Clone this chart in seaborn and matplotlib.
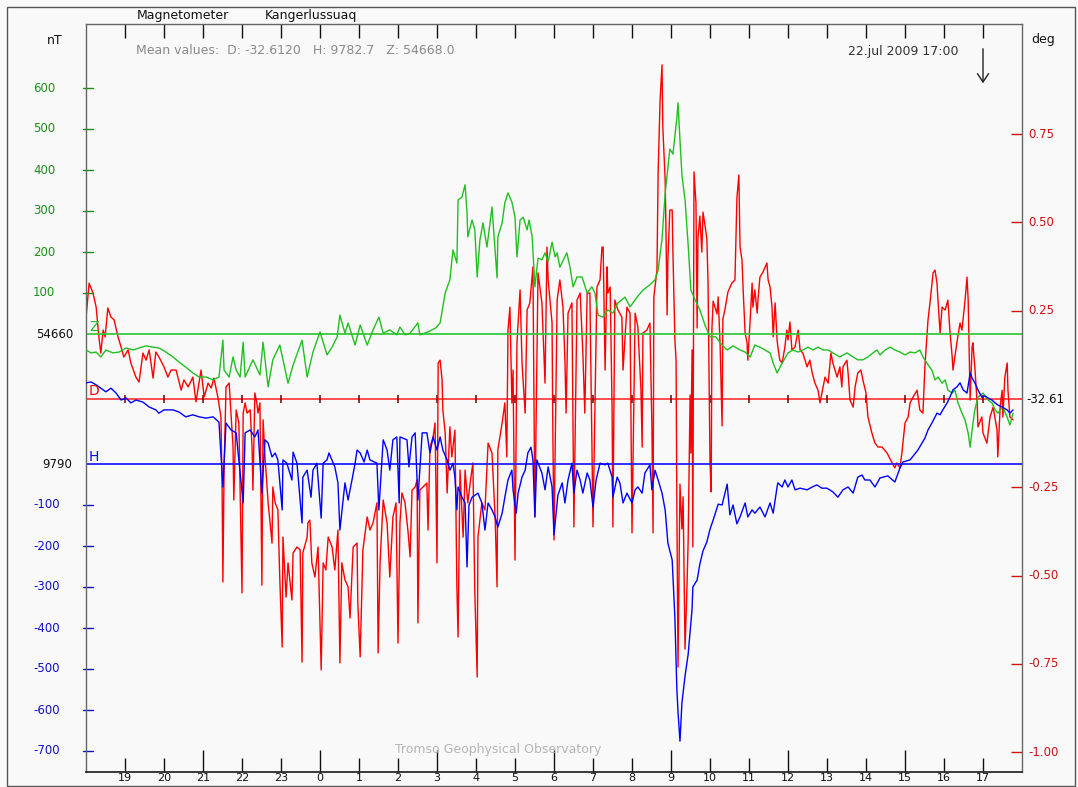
import numpy as np
import pandas as pd
import matplotlib
matplotlib.use("Agg")
import matplotlib.pyplot as plt
import matplotlib.transforms as mtransforms
from matplotlib.patches import Rectangle, FancyArrowPatch
import seaborn as sns

# ---------------- data (time = hours after 21 Jul 18:00 UT) ----------------
Z_BASE = 54660          # nT, reference level of Z trace
H_BASE = 9790           # nT, reference level of H trace
D_BASE = -32.61         # deg, reference level of D trace

z_time = [0.00, 0.13, 0.26, 0.38, 0.51, 0.69, 0.85, 1.03, 1.21, 1.36,
          1.54, 1.72, 1.87, 2.05, 2.23, 2.38, 2.56, 2.74, 2.90, 3.08,
          3.26, 3.41, 3.51, 3.54, 3.67, 3.77, 3.85, 3.95, 4.03, 4.08,
          4.28, 4.46, 4.54, 4.67, 4.79, 4.97, 5.18, 5.31, 5.54, 5.67,
          5.82, 6.00, 6.18, 6.31, 6.44, 6.51, 6.64, 6.72, 6.90, 7.03,
          7.21, 7.36, 7.51, 7.62, 7.79, 7.97, 8.05, 8.18, 8.31, 8.51,
          8.56, 8.77, 8.97, 9.08, 9.21, 9.33, 9.41, 9.51, 9.54, 9.64,
          9.72, 9.77, 9.79, 9.90, 9.97, 10.03, 10.10, 10.18, 10.28, 10.36,
          10.41, 10.54, 10.56, 10.67, 10.74, 10.82, 10.92, 11.00, 11.05, 11.13,
          11.21, 11.31, 11.36, 11.44, 11.51, 11.59, 11.69, 11.77, 11.85, 11.95,
          12.03, 12.08, 12.15, 12.33, 12.41, 12.49, 12.59, 12.72, 12.85, 12.97,
          13.05, 13.13, 13.26, 13.38, 13.51, 13.64, 13.82, 13.95, 14.13, 14.28,
          14.46, 14.59, 14.67, 14.77, 14.85, 14.97, 15.05, 15.15, 15.18, 15.23,
          15.28, 15.36, 15.44, 15.51, 15.62, 15.74, 15.87, 16.00, 16.15, 16.31,
          16.44, 16.59, 16.77, 16.90, 17.03, 17.15, 17.28, 17.41, 17.54, 17.62,
          17.72, 17.85, 18.00, 18.13, 18.26, 18.38, 18.51, 18.64, 18.77, 18.90,
          19.03, 19.15, 19.33, 19.51, 19.67, 19.79, 19.92, 20.05, 20.18, 20.28,
          20.36, 20.49, 20.62, 20.74, 20.87, 21.00, 21.13, 21.26, 21.38, 21.46,
          21.56, 21.69, 21.77, 21.85, 21.95, 22.03, 22.10, 22.21, 22.28, 22.36,
          22.46, 22.54, 22.62, 22.67, 22.72, 22.79, 22.87, 23.00, 23.13, 23.23,
          23.31, 23.38, 23.51, 23.62, 23.69, 23.77]
z_dev = [-39, -46, -44, -56, -39, -46, -44, -34, -39, -34,
         -29, -32, -34, -44, -56, -68, -81, -95, -105, -105,
         -112, -105, -15, -88, -105, -56, -88, -105, -20, -105,
         -63, -100, -20, -129, -63, -27, -120, -76, -15, -105,
         -44, 5, -51, -32, -7, 46, 2, 27, -27, 22,
         -27, 10, 41, 2, 10, -2, 17, -2, 2, 27,
         -2, 5, 15, 27, 100, 132, 205, 173, 327, 334,
         364, 295, 237, 278, 254, 139, 229, 271, 212, 271,
         310, 137, 237, 271, 320, 344, 322, 285, 188, 278,
         285, 254, 278, 237, 115, 185, 181, 198, 176, 224,
         188, 198, 163, 198, 163, 115, 139, 139, 100, 115,
         100, 46, 41, 59, 51, 76, 90, 66, 90, 107,
         120, 132, 156, 232, 342, 451, 439, 527, 564, 473,
         388, 327, 217, 107, 83, 59, 22, -7, -7, -27,
         -39, -29, -39, -44, -56, -27, -32, -39, -46, -71,
         -95, -71, -46, -39, -44, -39, -32, -39, -32, -39,
         -39, -46, -56, -46, -56, -63, -63, -56, -46, -39,
         -51, -39, -32, -39, -44, -51, -44, -46, -39, -56,
         -71, -88, -112, -105, -120, -112, -137, -144, -137, -168,
         -193, -210, -242, -276, -234, -185, -154, -144, -161, -168,
         -185, -193, -178, -203, -222, -193]

h_time = [0.00, 0.13, 0.26, 0.38, 0.51, 0.64, 0.77, 0.90, 1.03, 1.15,
          1.28, 1.46, 1.62, 1.79, 1.87, 2.00, 2.23, 2.38, 2.56, 2.74,
          2.90, 3.08, 3.26, 3.41, 3.51, 3.59, 3.72, 3.85, 4.03, 4.08,
          4.21, 4.33, 4.41, 4.51, 4.59, 4.67, 4.77, 4.85, 4.92, 5.03,
          5.05, 5.15, 5.28, 5.31, 5.41, 5.54, 5.56, 5.67, 5.77, 5.82,
          5.92, 6.03, 6.08, 6.18, 6.23, 6.38, 6.46, 6.51, 6.64, 6.72,
          6.82, 6.90, 6.95, 7.03, 7.13, 7.21, 7.28, 7.46, 7.51, 7.62,
          7.72, 7.79, 7.87, 7.97, 8.03, 8.05, 8.23, 8.28, 8.36, 8.44,
          8.51, 8.62, 8.74, 8.82, 8.90, 9.00, 9.08, 9.15, 9.26, 9.33,
          9.41, 9.46, 9.51, 9.54, 9.64, 9.72, 9.77, 9.82, 9.90, 10.05,
          10.15, 10.23, 10.31, 10.41, 10.49, 10.56, 10.67, 10.74, 10.82, 10.92,
          10.95, 11.03, 11.08, 11.18, 11.26, 11.33, 11.41, 11.46, 11.51, 11.56,
          11.69, 11.77, 11.85, 11.95, 12.00, 12.10, 12.21, 12.28, 12.36, 12.46,
          12.51, 12.59, 12.67, 12.74, 12.85, 12.92, 13.00, 13.08, 13.18, 13.31,
          13.38, 13.49, 13.51, 13.62, 13.69, 13.77, 13.87, 14.00, 14.08, 14.15,
          14.26, 14.33, 14.46, 14.51, 14.59, 14.67, 14.77, 14.85, 14.92, 15.03,
          15.10, 15.15, 15.18, 15.23, 15.28, 15.36, 15.44, 15.54, 15.56, 15.67,
          15.74, 15.82, 15.92, 16.00, 16.08, 16.21, 16.31, 16.44, 16.51, 16.59,
          16.69, 16.77, 16.90, 16.97, 17.08, 17.15, 17.28, 17.41, 17.54, 17.62,
          17.72, 17.74, 17.85, 17.92, 18.00, 18.10, 18.18, 18.31, 18.49, 18.62,
          18.74, 18.87, 19.00, 19.15, 19.28, 19.41, 19.54, 19.67, 19.79, 19.90,
          19.97, 20.10, 20.23, 20.36, 20.56, 20.74, 20.87, 20.95, 21.13, 21.33,
          21.51, 21.59, 21.69, 21.82, 21.90, 21.97, 22.08, 22.15, 22.23, 22.33,
          22.41, 22.49, 22.59, 22.67, 22.72, 22.79, 22.87, 22.97, 23.05, 23.13,
          23.23, 23.31, 23.38, 23.49, 23.62, 23.69, 23.77]
h_dev = [198, 200, 193, 185, 176, 185, 173, 156, 161, 149,
         156, 151, 139, 132, 124, 132, 132, 127, 115, 120,
         115, 112, 115, 102, -56, 100, 83, 76, -95, 76,
         83, 66, 83, -71, 59, 51, 17, 27, 10, -112,
         10, 2, -39, 29, 2, -144, -32, -15, -81, -15,
         2, -132, 2, 10, 27, -7, -46, -161, -46, -88,
         -39, 2, 34, 27, 5, 34, 10, 2, -112, 59,
         34, -15, 59, 66, -95, 66, 59, -7, 66, 76,
         -88, 76, 76, 27, 66, 34, 66, 34, 10, -15,
         2, -32, -112, -56, -81, -95, -251, -100, -81, -71,
         -95, -161, -95, -112, -129, -154, -120, -81, -39, -15,
         -63, -120, -71, -32, -15, 27, 41, 10, -129, 10,
         -22, -63, -7, -56, -173, -76, -46, -95, -39, 2,
         -71, -15, -39, -71, -22, -39, -105, -39, 2, -2,
         2, -32, -81, -32, -46, -95, -71, -95, -63, -56,
         -71, -22, -2, -63, -15, -39, -71, -112, -193, -234,
         -376, -549, -605, -676, -583, -517, -464, -354, -300, -283,
         -244, -212, -190, -159, -137, -98, -100, -49, -124, -100,
         -146, -129, -95, -129, -112, -120, -105, -129, -95, -120,
         -56, -46, -56, -39, -56, -39, -63, -59, -63, -56,
         -51, -59, -59, -68, -81, -63, -56, -71, -32, -27,
         -39, -39, -56, -34, -29, -44, -10, 5, 10, 34,
         63, 83, 100, 124, 120, 132, 149, 163, 181, 188,
         198, 181, 173, 222, 210, 198, 181, 163, 166, 161,
         156, 149, 144, 139, 132, 124, 132]

d_time = [0.00, 0.08, 0.18, 0.26, 0.33, 0.38, 0.44, 0.49, 0.56, 0.64,
          0.72, 0.82, 0.90, 0.97, 1.08, 1.15, 1.28, 1.36, 1.46, 1.54,
          1.62, 1.72, 1.79, 1.87, 2.00, 2.10, 2.18, 2.31, 2.44, 2.51,
          2.62, 2.74, 2.82, 2.95, 3.03, 3.13, 3.21, 3.28, 3.38, 3.46,
          3.49, 3.51, 3.54, 3.59, 3.67, 3.77, 3.79, 3.85, 3.92, 4.00,
          4.03, 4.08, 4.13, 4.21, 4.26, 4.28, 4.33, 4.38, 4.41, 4.46,
          4.51, 4.54, 4.59, 4.67, 4.77, 4.79, 4.85, 4.92, 4.97, 5.03,
          5.05, 5.13, 5.18, 5.28, 5.31, 5.41, 5.49, 5.54, 5.56, 5.67,
          5.69, 5.74, 5.79, 5.87, 5.95, 6.03, 6.08, 6.15, 6.21, 6.31,
          6.38, 6.46, 6.51, 6.56, 6.64, 6.72, 6.77, 6.85, 6.95, 6.97,
          7.03, 7.10, 7.21, 7.28, 7.36, 7.46, 7.49, 7.54, 7.62, 7.72,
          7.79, 7.87, 7.95, 8.00, 8.05, 8.10, 8.18, 8.26, 8.31, 8.36,
          8.44, 8.49, 8.51, 8.56, 8.64, 8.74, 8.77, 8.82, 8.90, 8.95,
          9.00, 9.03, 9.08, 9.13, 9.15, 9.21, 9.26, 9.33, 9.38, 9.46,
          9.51, 9.54, 9.59, 9.67, 9.72, 9.79, 9.85, 9.92, 9.97, 10.03,
          10.05, 10.15, 10.23, 10.31, 10.41, 10.49, 10.54, 10.56, 10.67, 10.74,
          10.79, 10.82, 10.87, 10.92, 10.95, 11.00, 11.05, 11.13, 11.18, 11.26,
          11.31, 11.38, 11.46, 11.51, 11.59, 11.69, 11.77, 11.82, 11.85, 11.95,
          11.97, 12.00, 12.08, 12.15, 12.23, 12.28, 12.31, 12.36, 12.46, 12.51,
          12.59, 12.67, 12.74, 12.79, 12.85, 12.92, 13.00, 13.10, 13.18, 13.23,
          13.26, 13.31, 13.36, 13.38, 13.44, 13.49, 13.51, 13.56, 13.64, 13.74,
          13.77, 13.87, 13.95, 14.00, 14.08, 14.15, 14.23, 14.26, 14.28, 14.38,
          14.46, 14.51, 14.54, 14.56, 14.64, 14.67, 14.72, 14.77, 14.79, 14.85,
          14.87, 14.90, 14.92, 14.97, 15.03, 15.05, 15.10, 15.13, 15.15, 15.18,
          15.23, 15.28, 15.31, 15.36, 15.41, 15.44, 15.49, 15.51, 15.54, 15.56,
          15.59, 15.64, 15.67, 15.69, 15.74, 15.79, 15.82, 15.87, 15.92, 15.95,
          16.00, 16.03, 16.05, 16.08, 16.18, 16.21, 16.26, 16.31, 16.33, 16.38,
          16.46, 16.56, 16.64, 16.69, 16.74, 16.77, 16.82, 16.85, 16.90, 16.95,
          16.97, 17.03, 17.08, 17.10, 17.15, 17.21, 17.23, 17.28, 17.36, 17.46,
          17.49, 17.54, 17.59, 17.62, 17.67, 17.72, 17.74, 17.79, 17.85, 17.92,
          17.97, 18.00, 18.05, 18.10, 18.18, 18.26, 18.31, 18.38, 18.49, 18.56,
          18.62, 18.69, 18.77, 18.82, 18.87, 18.95, 19.03, 19.10, 19.15, 19.26,
          19.33, 19.38, 19.41, 19.51, 19.54, 19.59, 19.67, 19.72, 19.79, 19.87,
          19.92, 20.00, 20.05, 20.15, 20.23, 20.31, 20.41, 20.54, 20.67, 20.74,
          20.79, 20.87, 20.92, 21.00, 21.08, 21.13, 21.21, 21.31, 21.38, 21.46,
          21.51, 21.59, 21.64, 21.72, 21.77, 21.82, 21.85, 21.90, 21.95, 22.03,
          22.10, 22.15, 22.21, 22.23, 22.33, 22.41, 22.46, 22.54, 22.59, 22.62,
          22.67, 22.72, 22.74, 22.79, 22.85, 22.87, 22.97, 23.00, 23.10, 23.18,
          23.26, 23.36, 23.38, 23.44, 23.49, 23.51, 23.56, 23.62, 23.64, 23.69,
          23.77]
d_dev = [0.229, 0.328, 0.300, 0.260, 0.176, 0.130, 0.195, 0.176, 0.258, 0.232,
         0.224, 0.176, 0.147, 0.119, 0.139, 0.102, 0.062, 0.048, 0.130, 0.110,
         0.139, 0.059, 0.133, 0.119, 0.091, 0.062, 0.082, 0.082, 0.025, 0.054,
         0.034, 0.062, -0.008, 0.082, 0.006, 0.045, 0.031, 0.059, 0.006, -0.051,
         -0.249, -0.518, -0.201, 0.034, 0.045, -0.136, -0.286, -0.031, -0.068, -0.549,
         -0.040, -0.011, -0.040, -0.031, -0.144, -0.258, 0.017, -0.011, -0.040, -0.011,
         -0.527, -0.059, -0.164, -0.294, -0.408, -0.249, -0.294, -0.314, -0.512, -0.702,
         -0.391, -0.561, -0.464, -0.569, -0.436, -0.419, -0.427, -0.745, -0.436, -0.391,
         -0.351, -0.343, -0.464, -0.504, -0.419, -0.767, -0.464, -0.484, -0.391, -0.419,
         -0.484, -0.371, -0.747, -0.464, -0.512, -0.532, -0.620, -0.419, -0.408, -0.578,
         -0.730, -0.427, -0.334, -0.371, -0.351, -0.294, -0.719, -0.464, -0.286, -0.351,
         -0.504, -0.334, -0.294, -0.691, -0.351, -0.266, -0.294, -0.379, -0.447, -0.258,
         -0.249, -0.229, -0.634, -0.258, -0.249, -0.238, -0.371, -0.136, -0.108, -0.068,
         -0.464, 0.102, 0.110, 0.054, -0.031, -0.096, -0.266, -0.079, -0.164, -0.088,
         -0.532, -0.674, -0.201, -0.391, -0.201, -0.294, -0.238, -0.181, -0.549, -0.787,
         -0.391, -0.294, -0.314, -0.125, -0.153, -0.334, -0.532, -0.144, -0.068, -0.011,
         -0.164, 0.195, 0.260, -0.011, 0.082, -0.456, 0.159, 0.309, 0.102, -0.040,
         0.252, 0.272, 0.374, -0.334, 0.357, 0.272, 0.045, 0.430, 0.337, 0.215,
         -0.088, -0.399, 0.280, 0.337, 0.260, 0.110, -0.040, 0.243, 0.272, -0.362,
         0.280, 0.300, 0.130, -0.040, 0.300, 0.300, -0.362, 0.317, 0.337, 0.430,
         0.430, 0.082, 0.374, 0.300, 0.317, -0.031, -0.362, 0.280, 0.252, 0.232,
         0.082, 0.260, 0.243, -0.379, 0.243, 0.204, 0.025, -0.136, 0.187, 0.195,
         0.215, -0.076, -0.379, 0.289, 0.365, 0.643, 0.846, 0.946, 0.770, 0.620,
         0.487, 0.238, 0.394, 0.535, 0.535, 0.413, 0.167, 0.110, -0.303, -0.759,
         -0.241, -0.368, -0.277, -0.708, -0.532, -0.399, 0.011, -0.153, 0.139, -0.419,
         0.643, 0.555, 0.201, 0.453, 0.518, 0.416, 0.529, 0.493, 0.453, 0.328,
         -0.178, -0.263, 0.201, 0.277, 0.241, 0.289, 0.150, -0.076, 0.226, 0.252,
         0.303, 0.328, 0.337, 0.569, 0.634, 0.430, 0.394, 0.309, 0.187, 0.159,
         0.110, 0.224, 0.328, 0.260, 0.309, 0.243, 0.280, 0.345, 0.360, 0.385,
         0.337, 0.317, 0.260, 0.176, 0.272, 0.167, 0.147, 0.110, 0.102, 0.147,
         0.195, 0.167, 0.218, 0.139, 0.147, 0.195, 0.139, 0.130, 0.091, 0.110,
         0.074, 0.045, 0.025, -0.011, 0.017, 0.062, 0.045, 0.130, 0.102, 0.062,
         0.091, 0.034, 0.091, 0.110, 0.074, -0.003, -0.023, 0.034, 0.074, 0.082,
         0.054, 0.017, -0.051, -0.096, -0.125, -0.136, -0.136, -0.153, -0.181, -0.195,
         -0.181, -0.195, -0.153, -0.068, -0.051, -0.011, 0.006, 0.025, -0.031, -0.040,
         0.091, 0.224, 0.272, 0.357, 0.365, 0.328, 0.272, 0.187, 0.260, 0.252,
         0.280, 0.195, 0.119, 0.082, 0.159, 0.215, 0.195, 0.280, 0.345, 0.280,
         -0.003, 0.147, 0.159, 0.091, -0.011, -0.079, -0.051, -0.096, -0.125, -0.051,
         -0.023, -0.088, -0.164, -0.023, 0.025, -0.051, 0.062, 0.102, 0.025, -0.051,
         -0.059]

hour_ticks = list(range(1, 24))
hour_labels = [str((18 + h) % 24) for h in hour_ticks]
z_tick_vals = [100, 200, 300, 400, 500, 600]
h_tick_vals = [-100, -200, -300, -400, -500, -600, -700]
d_tick_vals = [0.75, 0.50, 0.25, -0.25, -0.50, -0.75, -1.00]

# ---------------- layout / style ----------------
W, H = 1078, 787
BG = "#f9f9f9"
C_Z, C_D, C_H = "#20c020", "#ff0000", "#0000ff"
C_ZLAB, C_DLAB, C_HLAB = "#1a8f1a", "#d01010", "#1010d0"

NT_PER_PX = 100 / 41.0        # vertical scale of the nT axis
DEG_PER_PX = 0.25 / 88.3      # vertical scale of the deg axis
AX_TOP, AX_BOT, AX_L, AX_R = 24, 772, 86, 1022
Z_ROW, D_ROW, H_ROW = 334, 399, 464      # rows of the three reference levels
H_OFFSET = -(H_ROW - Z_ROW) * NT_PER_PX  # H trace drawn below Z trace

sns.set_theme(style="white")
plt.rcParams["font.family"] = ["DejaVu Sans"]

fig = plt.figure(figsize=(W / 100, H / 100), dpi=100, facecolor=BG)


def fx(px):
    return px / W


def fy(py):
    return 1 - py / H


ax = fig.add_axes([fx(AX_L), fy(AX_BOT), (AX_R - AX_L) / W, (AX_BOT - AX_TOP) / H])
ax2 = ax.twinx()
ax.set_zorder(ax2.get_zorder() + 1)
ax.patch.set_visible(False)
ax2.patch.set_visible(True)
ax2.patch.set_facecolor(BG)

ax.set_xlim(0, 24)
ax.set_ylim(-(AX_BOT - Z_ROW) * NT_PER_PX, (Z_ROW - AX_TOP) * NT_PER_PX)
ax2.set_ylim(-(AX_BOT - D_ROW) * DEG_PER_PX, (D_ROW - AX_TOP) * DEG_PER_PX)

# reference levels
ax.axhline(0, color="#3cc83c", lw=1.3, zorder=1)
ax.axhline(H_OFFSET, color="#2020ff", lw=1.3, zorder=1)
ax2.axhline(0, color="#ff4040", lw=1.3, zorder=1)
ax2.plot(hour_ticks, [0] * len(hour_ticks), linestyle="none", marker="|",
         ms=6, mew=1.1, color="#700000", zorder=2)

df_z = pd.DataFrame({"t": z_time, "v": np.array(z_dev, float)})
df_h = pd.DataFrame({"t": h_time, "v": np.array(h_dev, float) + H_OFFSET})
df_d = pd.DataFrame({"t": d_time, "v": d_dev})

sns.lineplot(data=df_d, x="t", y="v", ax=ax2, color=C_D, lw=1.0,
             sort=False, estimator=None, zorder=3)
sns.lineplot(data=df_z, x="t", y="v", ax=ax, color=C_Z, lw=1.0,
             sort=False, estimator=None, zorder=3)
sns.lineplot(data=df_h, x="t", y="v", ax=ax, color=C_H, lw=1.0,
             sort=False, estimator=None, zorder=4)

for a in (ax, ax2):
    a.set_xlabel("")
    a.set_ylabel("")

# x axis ticks
ax.set_xticks(hour_ticks)
ax.set_xticklabels(hour_labels)
ax.tick_params(axis="x", direction="in", length=10, width=1, colors="#111111",
               top=True, bottom=True, labelsize=8, pad=1)
for tk, h in zip(ax.xaxis.get_major_ticks(), hour_ticks):
    if (18 + h) % 3 == 0:
        tk.tick1line.set_markersize(16)

# left y ticks (coloured short marks across the axis line)
ax.set_yticks([])
ax2.set_yticks(d_tick_vals)
ax2.tick_params(axis="y", direction="in", length=8, width=1, colors=C_DLAB,
                left=False, right=True, labelright=False, labelleft=False)

tr_left = mtransforms.blended_transform_factory(fig.transFigure, ax.transData)
tr_right = mtransforms.blended_transform_factory(fig.transFigure, ax2.transData)
tick_x = [fx(83), fx(93)]
for v in z_tick_vals:
    ax.plot(tick_x, [v, v], transform=tr_left, color=C_ZLAB, lw=1.0, clip_on=False)
    fig.text(fx(33), v, str(v), transform=tr_left, ha="left", va="center",
             fontsize=8.5, color=C_ZLAB)
for v in h_tick_vals:
    ax.plot(tick_x, [v + H_OFFSET] * 2, transform=tr_left, color=C_HLAB, lw=1.0,
            clip_on=False)
    fig.text(fx(33), v + H_OFFSET, str(v), transform=tr_left, ha="left",
             va="center", fontsize=8.5, color=C_HLAB)
fig.text(fx(73), 0, str(Z_BASE), transform=tr_left, ha="right", va="center",
         fontsize=8.5, color="#111111")
fig.text(fx(72), H_OFFSET, str(H_BASE), transform=tr_left, ha="right",
         va="center", fontsize=8.5, color="#111111")
for v in d_tick_vals:
    fig.text(fx(1028), v, f"{v:.2f}", transform=tr_right, ha="left",
             va="center", fontsize=8.5, color=C_DLAB)
fig.text(fx(1026), 0, f"{D_BASE:.2f}", transform=tr_right, ha="left",
         va="center", fontsize=8.5, color="#111111")

# spines
for s in ("top", "left", "right"):
    ax.spines[s].set_color("#666666")
    ax.spines[s].set_linewidth(1.0)
ax.spines["bottom"].set_color("#222222")
for s in ax2.spines.values():
    s.set_visible(False)

# trace letters on the reference lines
fig.text(fx(89), fy(327), "Z", color=C_Z, fontsize=10, ha="left", va="center")
fig.text(fx(89), fy(391), "D", color=C_D, fontsize=10, ha="left", va="center")
fig.text(fx(89), fy(457), "H", color=C_H, fontsize=10, ha="left", va="center")

# header texts
fig.text(fx(137), fy(16), "Magnetometer", fontsize=9, ha="left", va="center", color="#111111")
fig.text(fx(265), fy(16), "Kangerlussuaq", fontsize=9, ha="left", va="center", color="#111111")
fig.text(fx(47), fy(40), "nT", fontsize=9, ha="left", va="center", color="#111111")
fig.text(fx(1031), fy(40), "deg", fontsize=9, ha="left", va="center", color="#111111")
fig.text(fx(136), fy(51), "Mean values:  D: -32.6120   H: 9782.7   Z: 54668.0",
         fontsize=9, ha="left", va="center", color="#8a8a8a")
fig.text(fx(848), fy(52), "22.jul 2009 17:00", fontsize=9, ha="left",
         va="center", color="#333333")
fig.text(fx(498), fy(749), "Tromso Geophysical Observatory", fontsize=9,
         ha="center", va="center", color="#b5b5b5")
fig.add_artist(FancyArrowPatch(
    (fx(983), fy(46)), (fx(983), fy(86)), transform=fig.transFigure,
    arrowstyle="->,head_length=6,head_width=4", color="#222222", lw=1.0,
    mutation_scale=1))

# outer frame
fig.add_artist(Rectangle((fx(7), fy(786)), (1075 - 7) / W, (786 - 7) / H,
                         transform=fig.transFigure, fill=False,
                         edgecolor="#555555", lw=1.0))

fig.savefig("out.png", dpi=100, facecolor=BG)
